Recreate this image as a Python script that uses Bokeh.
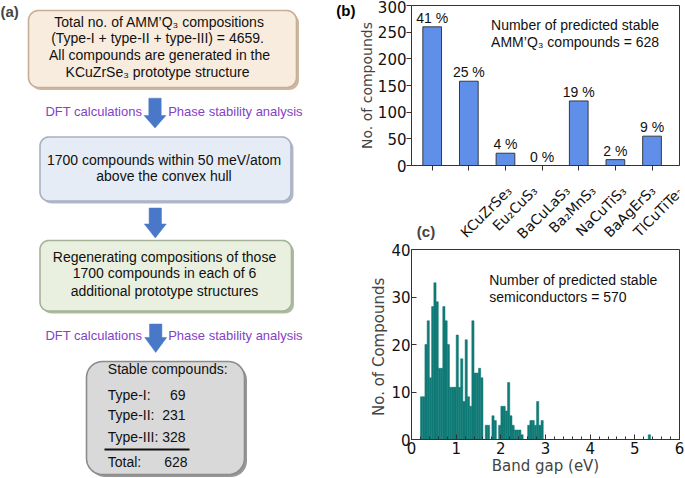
import numpy as np
from bokeh.plotting import figure
from bokeh.layouts import row, column
from bokeh.models import Range1d, FixedTicker, SingleIntervalTicker, Label, LabelSet, LinearAxis, ColumnDataSource
from bokeh.core.properties import value
from bokeh.embed import file_html
from bokeh.resources import INLINE

# ---------------- data ----------------
# (b) stable compounds per prototype structure
prototypes = ["KCuZrSe₃", "Eu₂CuS₃", "BaCuLaS₃", "Ba₂MnS₃", "NaCuTiS₃", "BaAgErS₃", "TlCuTiTe₃"]
stable_counts = [260, 158, 23, 0, 121, 11, 55]
total_stable = 628
count_ticks = [0, 50, 100, 150, 200, 250, 300]

# (c) band-gap histogram (left bin edges, eV) and counts
gap_left = [0.20, 0.25, 0.30, 0.35, 0.40, 0.45, 0.50, 0.55, 0.60, 0.65,
            0.70, 0.75, 0.80, 0.85, 0.90, 0.95, 1.00, 1.05, 1.10, 1.15,
            1.20, 1.25, 1.30, 1.35, 1.40, 1.45, 1.50, 1.55, 1.60, 1.65,
            1.70, 1.75, 1.80, 1.85, 1.90, 1.95, 2.00, 2.05, 2.10, 2.15,
            2.20, 2.25, 2.30, 2.35, 2.40, 2.45, 2.50, 2.55, 2.60, 2.65,
            2.70, 2.75, 2.80, 2.85, 2.90, 5.30]
gap_counts = [9, 9, 20, 25, 13, 28, 33, 29, 15, 15,
              28, 25, 20, 11, 11, 11, 22, 11, 17, 8,
              21, 9, 7, 25, 14, 14, 15, 13, 0, 3,
              3, 0, 5, 4, 0, 3, 7, 7, 6, 12,
              5, 3, 2, 2, 2, 1, 0, 0, 3, 4,
              4, 3, 8, 3, 4, 1]
gap_bin_width = 0.05
compound_ticks = [0, 10, 20, 30, 40]
total_semiconductors = 570

# (a) flowchart texts
box1_lines = ["Total no. of AMM’Q₃ compositions",
              "(Type-I + type-II + type-III)  = 4659.",
              "All compounds are generated in the",
              "KCuZrSe₃  prototype structure"]
box2_lines = ["1700 compounds within 50 meV/atom", "above the convex hull"]
box3_lines = ["Regenerating compositions of those",
              "1700 compounds in each of 6",
              "additional prototype structures"]
step_left = "DFT calculations"
step_right = "Phase stability analysis"
stable_title = "Stable compounds:"
stable_types = ["Type-I:", "Type-II:", "Type-III:"]
stable_type_counts = [69, 231, 328]

ARIAL = value("Liberation Sans")
PURPLE = "#8442c6"
ARROW = "#4a78c8"
INK = "#111111"
AX = "#333333"

# ---------------- (a) flowchart ----------------
flow = figure(width=333, height=477, x_range=Range1d(0, 333), y_range=Range1d(477, 0),
              x_axis_type=None, y_axis_type=None, output_backend="svg",
              toolbar_location=None, min_border=0, outline_line_color=None)


def rounded(x0, y0, x1, y1, r, n=10):
    xs, ys = [], []
    corners = [(x1 - r, y0 + r, -90, 0), (x1 - r, y1 - r, 0, 90),
               (x0 + r, y1 - r, 90, 180), (x0 + r, y0 + r, 180, 270)]
    for cx, cy, a0, a1 in corners:
        for a in np.radians(np.linspace(a0, a1, n)):
            xs.append(cx + r * np.cos(a))
            ys.append(cy + r * np.sin(a))
    return xs, ys


boxes = [(28, 10, 296, 87, 10, "#f8ecdf", "#c7af97"),
         (39.5, 136.5, 290.5, 200.5, 9, "#e6ecf5", "#a6b1c2"),
         (39.5, 240, 291, 310.5, 9, "#e9f0e0", "#a6b299"),
         (86, 361, 244, 474, 16, "#d9d9d9", "#8c8c8c")]
for x0, y0, x1, y1, r, fill, edge in boxes:
    sx, sy = rounded(x0 + 2.5, y0 + 2.5, x1 + 2.5, y1 + 2.5, r)
    flow.patch(sx, sy, fill_color=edge, line_color=None, fill_alpha=0.9)
    bx, by = rounded(x0, y0, x1, y1, r)
    flow.patch(bx, by, fill_color=fill, line_color=edge, line_width=1.6)


def down_arrow(xc, y_top, y_head, y_tip, shaft=12.4, head=22):
    xs = [xc - shaft / 2, xc + shaft / 2, xc + shaft / 2, xc + head / 2, xc, xc - head / 2, xc - shaft / 2]
    ys = [y_top, y_top, y_head, y_head, y_tip, y_head, y_head]
    return xs, ys


for xc, yt, yh, yp in [(154.5, 97.7, 115, 127.5), (154.8, 207.5, 223.5, 237.5), (155.2, 323.5, 337, 352)]:
    ax, ay = down_arrow(xc, yt, yh, yp)
    flow.patch(ax, ay, fill_color=ARROW, line_color=ARROW, line_width=0.5)

flow.text(x=[159] * 4, y=[21, 37.7, 54.3, 71], text=box1_lines, text_align="center",
          text_baseline="middle", text_font=ARIAL, text_font_size="14px", text_color=INK)
flow.text(x=[163.5] * 2, y=[159.5, 175.5], text=box2_lines, text_align="center",
          text_baseline="middle", text_font=ARIAL, text_font_size="14px", text_color=INK)
flow.text(x=[164] * 3, y=[256, 272.7, 290], text=box3_lines, text_align="center",
          text_baseline="middle", text_font=ARIAL, text_font_size="14px", text_color=INK)
for yy in (111, 335):
    flow.text(x=[141.7], y=[yy], text=[step_left], text_align="right", text_baseline="middle",
              text_font=ARIAL, text_font_size="13px", text_color=PURPLE)
    flow.text(x=[167.7], y=[yy], text=[step_right], text_align="left", text_baseline="middle",
              text_font=ARIAL, text_font_size="13px", text_color=PURPLE)

flow.text(x=[107.3], y=[368.5], text=[stable_title], text_align="left", text_baseline="middle",
          text_font=ARIAL, text_font_size="14px", text_color=INK)
type_y = [394, 414, 436.7]
flow.text(x=[107.3] * 3, y=type_y, text=stable_types, text_align="left", text_baseline="middle",
          text_font=ARIAL, text_font_size="14px", text_color=INK)
flow.text(x=[185] * 3, y=type_y, text=[str(v) for v in stable_type_counts], text_align="right",
          text_baseline="middle", text_font=ARIAL, text_font_size="14px", text_color=INK)
flow.segment(x0=[104], y0=[449], x1=[189], y1=[449], line_color=INK, line_width=1.8)
flow.text(x=[107.3], y=[461.7], text=["Total:"], text_align="left", text_baseline="middle",
          text_font=ARIAL, text_font_size="14px", text_color=INK)
flow.text(x=[187], y=[461.7], text=[str(sum(stable_type_counts))], text_align="right",
          text_baseline="middle", text_font=ARIAL, text_font_size="14px", text_color=INK)
flow.add_layout(Label(x=0, y=2, text="(a)", text_baseline="top", text_align="left",
                      text_font="Liberation Sans", text_font_size="15px", text_font_style="bold"))


def panel_tag(fig, ypos, tag, standoff=0):
    """Bold panel letter drawn as the only tick label of an outer, bare left axis."""
    tag_axis = LinearAxis(ticker=FixedTicker(ticks=[ypos]), major_label_overrides={ypos: tag},
                          axis_line_color=None, major_tick_line_color=None,
                          minor_tick_line_color=None, major_tick_in=0, major_tick_out=0,
                          major_label_standoff=standoff, major_label_text_font="Liberation Sans",
                          major_label_text_font_style="bold", major_label_text_font_size="15px",
                          major_label_text_color="#000000")
    fig.add_layout(tag_axis, "left")


# ---------------- (b) bar chart ----------------
B_LEFT, B_RIGHT, B_W = 75, 1, 351
B_H = 175
XLO, XHI = -0.565, 6.75
xs = list(range(len(prototypes)))
pb = figure(width=B_W, height=B_H, x_range=Range1d(XLO, XHI), y_range=Range1d(0, 300),
            output_backend="svg", toolbar_location=None,
            min_border_left=B_LEFT, min_border_right=B_RIGHT, min_border_top=5, min_border_bottom=10)
pb.grid.visible = False
pb.outline_line_color = AX
pb.vbar(x=xs, top=stable_counts, width=0.51, fill_color="#5f8fe9", line_color="#333a44", line_width=1)
pct = [f"{round(100 * c / total_stable)} %" for c in stable_counts]
pb.text(x=xs, y=stable_counts, text=pct, text_align="center", text_baseline="bottom", y_offset=-1,
        text_font=ARIAL, text_font_size="14px", text_color=INK)
pb.text(x=[3.9, 3.9], y=[264, 232],
        text=["Number of predicted stable", f"AMM’Q₃ compounds = {total_stable}"],
        text_align="center", text_baseline="middle", text_font=ARIAL, text_font_size="14px",
        text_color=INK)

xa = pb.xaxis[0]
xa.ticker = FixedTicker(ticks=[], minor_ticks=xs)   # tick marks under the bars only
xa.axis_line_color = AX
xa.major_tick_line_color = None
xa.minor_tick_line_color = AX
xa.minor_tick_in = 0
xa.minor_tick_out = 5
xa.major_tick_in = 0
xa.major_tick_out = 5
xa.major_label_standoff = 0

ya = pb.yaxis[0]
ya.ticker = FixedTicker(ticks=count_ticks)
ya.axis_line_color = AX
ya.major_tick_line_color = AX
ya.major_tick_in = 0
ya.major_tick_out = 5
ya.minor_tick_line_color = None
ya.major_label_text_font = "DejaVu Sans"
ya.major_label_text_font_size = "15px"
ya.major_label_text_color = INK
ya.major_label_standoff = 0
ya.axis_label = "No. of compounds"
ya.axis_label_text_font = "DejaVu Sans"
ya.axis_label_text_font_size = "14px"
ya.axis_label_text_font_style = "normal"
ya.axis_label_standoff = 0
panel_tag(pb, 296, "(b)")

# strip under (b) holding the 45° category labels, on the same x scale (y in pixels below top)
ppu = (B_W - B_LEFT - B_RIGHT) / (XHI - XLO)
DV = {"K": .656, "C": .698, "u": .634, "Z": .686, "r": .411, "S": .635, "e": .615, "E": .632,
      "B": .686, "a": .613, "L": .557, "M": .863, "n": .634, "N": .748, "T": .611, "i": .278,
      "A": .684, "g": .635, "l": .278, "₂": .401, "₃": .401}
lab_size = 14
LAB_H = 240 - B_H
bbox = [(sum(DV.get(ch, .6) for ch in s) * lab_size + lab_size * 1.16) * 0.7071 for s in prototypes]
LAB_XLO = XLO - B_LEFT / ppu
plab = figure(width=B_W, height=LAB_H, x_range=Range1d(LAB_XLO, XHI + B_RIGHT / ppu),
              y_range=Range1d(-LAB_H, 0), x_axis_type=None, y_axis_type=None,
              output_backend="svg", toolbar_location=None, min_border=0, outline_line_color=None)
lab_src = ColumnDataSource(dict(x=[i + 1.5 / ppu for i in xs],
                                y=[-(7 + b / 2) for b in bbox], text=prototypes))
plab.add_layout(LabelSet(x="x", y="y", text="text", source=lab_src, angle=np.pi / 4,
                         text_align="center", text_baseline="middle",
                         text_font=value("DejaVu Sans"), text_font_size=value(f"{lab_size}px"),
                         text_color=INK))
# panel letter of (c), placed in the strip just above panel (c)
plab.add_layout(Label(x=LAB_XLO + 7 / ppu, y=-LAB_H + 0.5, text="(c)", text_baseline="bottom",
                      text_align="left", text_font="Liberation Sans", text_font_size="15px",
                      text_font_style="bold"))

# ---------------- (c) histogram ----------------
left = np.array(gap_left)
pc = figure(width=351, height=237, x_range=Range1d(0, 6), y_range=Range1d(0, 40),
            output_backend="svg", toolbar_location=None,
            min_border_left=69, min_border_right=5, min_border_top=9, min_border_bottom=35)
pc.grid.visible = False
pc.outline_line_color = AX
pc.quad(left=left, right=left + gap_bin_width, bottom=0, top=gap_counts,
        fill_color="#107b76", line_color="#107b76", line_width=0.5)
pc.text(x=[1.74, 1.74], y=[33.5, 30.0],
        text=["Number of predicted stable", f"semiconductors = {total_semiconductors}"],
        text_align="left", text_baseline="middle", text_font=ARIAL, text_font_size="14px",
        text_color=INK)
pc.xaxis.ticker = SingleIntervalTicker(interval=1, num_minor_ticks=5)
pc.yaxis.ticker = FixedTicker(ticks=compound_ticks)
for ax in (pc.xaxis[0], pc.yaxis[0]):
    ax.axis_line_color = AX
    ax.major_tick_line_color = AX
    ax.major_tick_in = 5
    ax.major_tick_out = 0
    ax.major_label_text_font = "DejaVu Sans"
    ax.major_label_text_font_size = "15px"
    ax.major_label_text_color = INK
    ax.major_label_standoff = 2
    ax.axis_label_text_font = "DejaVu Sans"
    ax.axis_label_text_font_size = "15px"
    ax.axis_label_text_font_style = "normal"
    ax.axis_label_standoff = 0
pc.yaxis[0].major_label_standoff = 1
pc.xaxis.minor_tick_in = 3
pc.xaxis.minor_tick_out = 0
pc.xaxis.minor_tick_line_color = AX
pc.yaxis.minor_tick_line_color = None
pc.xaxis.axis_label = "Band gap (eV)"
pc.yaxis.axis_label = "No. of  Compounds"

layout = row(flow, column(pb, plab, pc))
open("out.html", "w").write(file_html(layout, INLINE))
